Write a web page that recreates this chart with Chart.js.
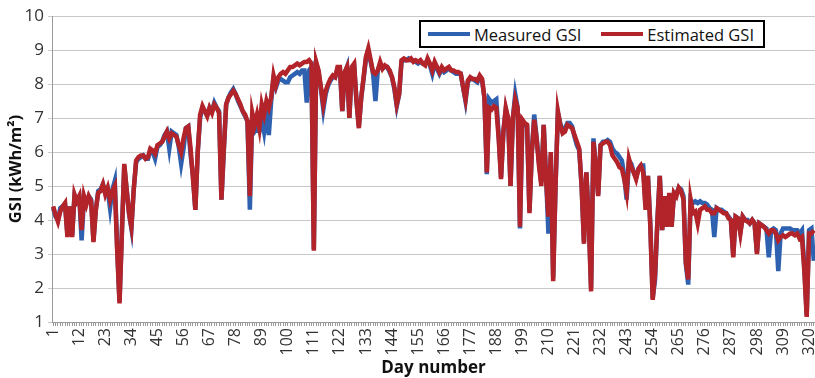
<!DOCTYPE html>
<html>
<head>
<meta charset="utf-8">
<script src="https://cdn.jsdelivr.net/npm/chart.js@4/dist/chart.umd.min.js"></script>
<style>
  html, body { margin: 0; padding: 0; background: #fff; }
  #wrap { position: relative; width: 815px; height: 378px; }
  #legend {
    position: absolute; left: 419px; top: 20px; width: 342px; height: 24px;
    border: 2px solid #000; background: #fff;
    font-family: "Open Sans", sans-serif; font-size: 16.5px; color: #111;
    display: flex; align-items: center; box-sizing: content-box;
  }
  .sw { display: inline-block; width: 42px; height: 4px; margin: 0 4px 0 7px; }
</style>
</head>
<body>
<div id="wrap">
  <canvas id="gsiChart" width="815" height="378"></canvas>
  <div id="legend">
    <span class="sw" style="background:#2E62B0"></span><span>Measured GSI</span>
    <span class="sw" style="background:#B3242A; margin-left:20px"></span><span>Estimated GSI</span>
  </div>
</div>
<script>
const days = [];
for (let d = 1; d <= 322; d++) days.push(String(d));

const tickEvery = 11;

const measured = [
  4.35, 4.1, 4.0, 4.35, 4.4, 4.45, 3.6, 4.4, 3.55, 4.7,
  4.6, 4.7, 3.4, 4.65, 4.5, 4.7, 4.6, 3.4, 4.3, 4.85,
  4.9, 5.05, 4.8, 4.9, 4.35, 4.9, 5.15, 3.2, 1.6, 3.7,
  5.6, 4.9, 4.2, 3.75, 4.9, 5.7, 5.8, 5.85, 5.9, 5.8,
  5.8, 6.05, 6.0, 5.8, 6.15, 6.2, 6.3, 6.5, 6.6, 6.1,
  6.6, 6.55, 6.5, 6.15, 5.65, 6.1, 6.7, 6.75, 5.9, 5.3,
  4.3, 6.0, 7.0, 7.3, 7.2, 7.1, 7.3, 7.2, 7.45, 7.3,
  7.2, 4.6, 6.0, 7.4, 7.6, 7.75, 7.85, 7.7, 7.5, 7.35,
  7.2, 7.05, 6.9, 4.3, 7.1, 6.6, 6.7, 6.6, 7.0, 6.6,
  7.2, 6.5, 7.5, 8.15, 7.9, 8.1, 8.15, 8.1, 8.05, 8.05,
  8.2, 8.25, 8.3, 8.35, 8.3, 8.4, 8.4, 7.45, 8.4, 8.5,
  3.15, 8.6, 8.35, 7.85, 7.25, 7.7, 7.95, 8.1, 8.2, 8.2,
  8.45, 8.45, 7.2, 8.3, 8.5, 7.0, 8.45, 8.55, 7.5, 6.75,
  7.6, 8.15, 8.75, 8.95, 8.65, 8.3, 7.5, 8.4, 8.6, 8.45,
  8.5, 8.5, 8.35, 8.2, 7.85, 7.35, 7.7, 8.65, 8.7, 8.7,
  8.75, 8.7, 8.7, 8.65, 8.6, 8.65, 8.6, 8.6, 8.7, 8.55,
  8.3, 8.6, 8.45, 8.3, 8.45, 8.35, 8.4, 8.45, 8.4, 8.35,
  8.3, 8.3, 8.3, 7.9, 7.5, 8.05, 8.15, 8.15, 8.1, 8.05,
  8.2, 8.1, 7.6, 5.35, 7.55, 7.45, 7.5, 7.55, 6.5, 5.25,
  6.6, 7.25, 6.95, 5.0, 7.0, 7.7, 7.3, 3.75, 6.9, 6.8,
  6.75, 4.25, 6.0, 7.1, 6.45, 5.7, 5.1, 6.8, 5.3, 3.6,
  5.9, 2.3, 5.0, 7.15, 6.85, 6.6, 6.7, 6.85, 6.85, 6.75,
  6.45, 6.2, 6.05, 5.0, 3.35, 5.4, 4.1, 2.0, 6.4, 5.6,
  4.75, 6.2, 6.3, 6.3, 6.35, 6.3, 6.1, 6.0, 5.95, 5.85,
  5.75, 5.3, 4.6, 5.75, 5.65, 5.4, 5.25, 5.5, 5.6, 5.6,
  4.4, 5.3, 3.9, 1.7, 2.25, 4.0, 5.3, 3.7, 4.7, 3.8,
  4.75, 3.85, 4.8, 4.75, 4.95, 4.9, 4.7, 2.7, 2.1, 4.6,
  4.5, 4.55, 4.5, 4.55, 4.5, 4.5, 4.45, 4.35, 4.3, 3.5,
  4.35, 4.3, 4.3, 4.25, 4.2, 4.1, 4.0, 2.95, 4.1, 4.05,
  3.65, 4.1, 4.0, 4.0, 3.9, 4.0, 3.9, 3.05, 3.9, 3.85,
  3.8, 3.75, 2.9, 3.7, 3.75, 3.7, 2.5, 3.6, 3.75, 3.75,
  3.75, 3.75, 3.7, 3.7, 3.7, 3.6, 3.7, 2.6, 1.2, 3.7,
  3.75, 2.8
];

const estimated = [
  4.4, 4.15, 3.95, 4.25, 4.4, 4.5, 3.5, 4.4, 3.5, 4.75,
  4.55, 4.7, 3.7, 4.7, 4.45, 4.7, 4.55, 3.35, 4.3, 4.8,
  4.85, 5.05, 4.75, 4.95, 4.6, 4.85, 5.0, 3.1, 1.55, 3.6,
  5.65, 4.9, 4.2, 3.8, 4.9, 5.75, 5.85, 5.9, 5.9, 5.8,
  5.85, 6.1, 6.05, 5.95, 6.2, 6.25, 6.3, 6.45, 6.6, 6.4,
  6.55, 6.5, 6.45, 6.2, 6.0, 6.4, 6.7, 6.75, 6.1, 5.2,
  4.3, 6.0, 7.1, 7.35, 7.2, 7.05, 7.3, 7.15, 7.4, 7.3,
  7.15, 4.6, 6.1, 7.4, 7.6, 7.7, 7.8, 7.7, 7.55, 7.4,
  7.2, 7.1, 6.9, 4.7, 7.15, 6.8, 7.1, 6.7, 7.4, 7.1,
  7.5, 7.3, 7.6, 8.25, 7.95, 8.2, 8.3, 8.35, 8.3, 8.4,
  8.5, 8.5, 8.55, 8.6, 8.55, 8.6, 8.65, 8.65, 8.7, 8.6,
  3.1, 8.65, 8.4, 7.9, 7.4, 7.8, 8.0, 8.15, 8.25, 8.2,
  8.5, 8.5, 7.2, 8.35, 8.5, 7.0, 8.5, 8.6, 7.5, 6.7,
  7.6, 8.2, 8.8, 9.05, 8.7, 8.35, 8.3, 8.4, 8.65, 8.45,
  8.55, 8.5, 8.4, 8.2, 7.9, 7.4, 7.7, 8.7, 8.75, 8.7,
  8.7, 8.75, 8.65, 8.7, 8.65, 8.7, 8.6, 8.55, 8.75, 8.6,
  8.4, 8.65, 8.5, 8.35, 8.5, 8.4, 8.45, 8.5, 8.4, 8.4,
  8.35, 8.35, 8.3, 7.9, 7.55, 8.1, 8.2, 8.15, 8.15, 8.1,
  8.25, 8.15, 7.6, 5.4, 7.3, 7.25, 7.35, 7.3, 6.4, 5.2,
  6.6, 7.3, 7.0, 5.0, 7.0, 7.55, 7.3, 3.8, 6.95, 6.85,
  6.8, 4.2, 6.0, 6.95, 6.4, 5.6, 5.0, 6.8, 5.2, 4.1,
  6.0, 2.2, 5.0, 7.2, 6.8, 6.55, 6.6, 6.8, 6.75, 6.7,
  6.5, 6.3, 6.1, 5.0, 3.3, 5.4, 4.0, 1.9, 6.3, 5.6,
  4.7, 6.2, 6.25, 6.3, 6.3, 6.2, 5.9, 5.8, 5.7, 5.55,
  5.5, 5.2, 4.8, 5.8, 5.55, 5.4, 5.2, 5.5, 5.6, 5.4,
  4.3, 5.3, 3.8, 1.65, 2.4, 4.0, 5.3, 3.7, 4.7, 3.8,
  4.8, 3.8, 4.8, 4.7, 4.95, 4.85, 4.6, 2.75, 2.25, 4.6,
  4.2, 4.25, 3.9, 4.3, 4.35, 4.4, 4.3, 4.3, 4.2, 4.2,
  4.35, 4.3, 4.25, 4.2, 4.2, 4.05, 4.0, 2.9, 4.1, 4.05,
  3.6, 4.1, 4.0, 3.95, 3.9, 4.0, 3.9, 3.0, 3.9, 3.85,
  3.8, 3.7, 3.6, 3.7, 3.7, 3.6, 3.4, 3.5, 3.55, 3.5,
  3.55, 3.6, 3.6, 3.55, 3.6, 3.45, 3.5, 2.5, 1.15, 3.6,
  3.6, 3.7
];

const font = "'Open Sans', sans-serif";

new Chart(document.getElementById("gsiChart"), {
    type: 'line',
    data: {
        labels: days,
        datasets: [{
            label: 'Measured GSI',
            data: measured,
            borderColor: '#2E62B0',
            borderWidth: 4.5,
            pointRadius: 0,
            fill: false,
            order: 2
        }, {
            label: 'Estimated GSI',
            data: estimated,
            borderColor: '#B3242A',
            borderWidth: 4.5,
            pointRadius: 0,
            fill: false,
            order: 1
        }]
    },
    options: {
        responsive: false,
        animation: false,
        layout: { padding: { top: 16, right: 0, left: 0, bottom: 0 } },
        plugins: { legend: { display: false }, tooltip: { enabled: false } },
        scales: {
            x: {
                offset: true,
                grid: { display: true, drawOnChartArea: false, color: '#999', tickLength: 4 },
                border: { color: '#999' },
                ticks: {
                    autoSkip: false, minRotation: 90, maxRotation: 90, padding: 2,
                    color: '#333', font: { family: font, size: 16 },
                    callback: (v, i) => i % tickEvery === 0 ? days[i] : ''
                },
                title: { display: true, text: 'Day number', color: '#111', padding: 0,
                         font: { family: font, size: 17, weight: 'bold' } },
                afterFit: s => { s.height = 56; s.paddingRight = 0; s.paddingLeft = 0; }
            },
            y: {
                min: 1, max: 10,
                grid: { color: '#c8c8c8', tickLength: 4 },
                border: { color: '#999' },
                ticks: { stepSize: 1, padding: 4, color: '#333', font: { family: font, size: 17 } },
                title: { display: true, text: 'GSI (kWh/m²)', color: '#111', padding: { top: 6, bottom: 0 },
                         font: { family: font, size: 16.5, weight: 'bold' } },
                afterFit: s => { s.width = 52; }
            }
        }
    }
});
</script>
</body>
</html>
